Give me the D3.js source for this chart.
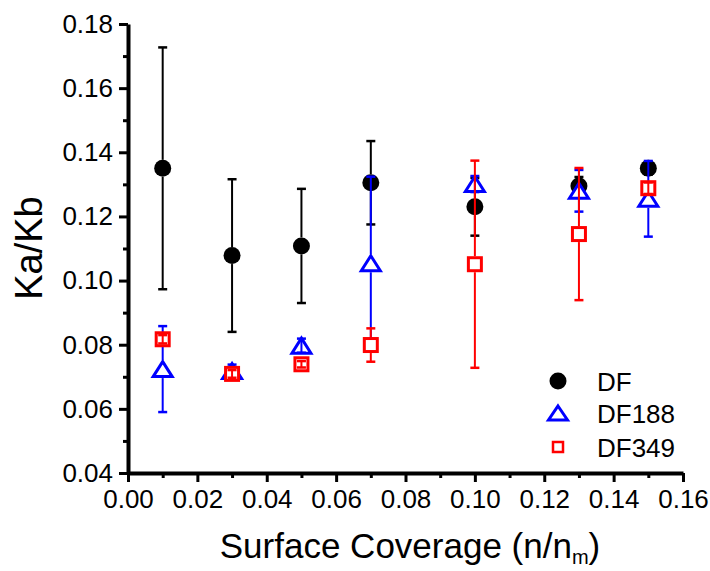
<!DOCTYPE html>
<html>
<head>
<meta charset="utf-8">
<script src="https://cdn.jsdelivr.net/npm/d3@7"></script>
<style>
  html, body { margin: 0; padding: 0; background: #fff; }
  svg { display: block; }
  text { font-family: "Liberation Sans", Arial, sans-serif; fill: #000; }
</style>
</head>
<body>
<svg id="chart" width="710" height="571"></svg>
<script>
// ---- data ----
const coverage = [0.01, 0.03, 0.05, 0.07, 0.10, 0.13, 0.15];
const dfValues   = [0.1350, 0.1078, 0.1108, 0.1305, 0.1230, 0.1295, 0.1350];
const dfErrors   = [0.0377, 0.0238, 0.0178, 0.0130, 0.0090, 0.0028, 0.0020];
const df188Values = [0.0724, 0.0718, 0.0797, 0.1054, 0.1301, 0.1280, 0.1255];
const df188Errors = [0.0134, 0.0020, 0.0022, 0.0270, 0.0025, 0.0065, 0.0118];
const df349Values = [0.0817, 0.0709, 0.0739, 0.0799, 0.1051, 0.1145, 0.1288];
const df349Errors = [0.0013, 0.0012, 0.0010, 0.0052, 0.0323, 0.0206, 0.0018];
const seriesNames = ["DF", "DF188", "DF349"];
const xMajorTicks = [0.00, 0.02, 0.04, 0.06, 0.08, 0.10, 0.12, 0.14, 0.16];
const xMinorTicks = [0.01, 0.03, 0.05, 0.07, 0.09, 0.11, 0.13, 0.15];
const yMajorTicks = [0.04, 0.06, 0.08, 0.10, 0.12, 0.14, 0.16, 0.18];
const yMinorTicks = [0.05, 0.07, 0.09, 0.11, 0.13, 0.15, 0.17];

const svg = d3.select("#chart");
const x = d3.scaleLinear().domain([0, 0.16]).range([128, 683]);
const y = d3.scaleLinear().domain([0.04, 0.18]).range([473, 24]);

const styles = {
  DF:    { color: "#000000", shape: "circle" },
  DF188: { color: "#0000ff", shape: "triangle" },
  DF349: { color: "#ff0000", shape: "square" }
};

// ---- axes ----
function styleAxis(g) {
  g.select(".domain").attr("stroke", "#000").attr("stroke-width", 4);
  g.selectAll(".tick line").attr("stroke", "#000").attr("stroke-width", 3);
  g.selectAll(".tick text").style("font-size", "26px").style("font-family", "'Liberation Sans', Arial, sans-serif");
}
const fmt = d3.format(".2f");

svg.append("g").attr("transform", "translate(0,473)")
  .call(d3.axisBottom(x).tickValues(xMinorTicks).tickSize(5).tickFormat(""))
  .call(g => { styleAxis(g); g.select(".domain").remove(); });
svg.append("g").attr("transform", "translate(128,0)")
  .call(d3.axisLeft(y).tickValues(yMinorTicks).tickSize(5).tickFormat(""))
  .call(g => { styleAxis(g); g.select(".domain").remove(); });

svg.append("g").attr("transform", "translate(0,473)")
  .call(d3.axisBottom(x).tickValues(xMajorTicks).tickSize(9).tickSizeOuter(0).tickPadding(8).tickFormat(fmt))
  .call(styleAxis);
svg.append("g").attr("transform", "translate(128,0)")
  .call(d3.axisLeft(y).tickValues(yMajorTicks).tickSize(9).tickSizeOuter(0).tickPadding(6).tickFormat(fmt))
  .call(styleAxis);

// ---- axis titles ----
const xt = svg.append("text").attr("x", 410).attr("y", 558)
  .attr("text-anchor", "middle").style("font-size", "35px");
xt.append("tspan").text("Surface Coverage (n/n");
xt.append("tspan").attr("dy", 6).style("font-size", "20px").text("m");
xt.append("tspan").attr("dy", -6).text(")");

svg.append("text").attr("transform", "translate(42,248) rotate(-90)")
  .attr("text-anchor", "middle").style("font-size", "38px").text("Ka/Kb");

// ---- markers ----
function drawMarker(g, shape, color, cx, cy, s) {
  if (shape === "circle") {
    g.append("circle").attr("cx", cx).attr("cy", cy).attr("r", s.r).attr("fill", color);
  } else if (shape === "triangle") {
    const w = s.w, h = s.h;
    g.append("path")
      .attr("d", `M${cx},${cy - h / 2}L${cx + w / 2},${cy + h / 2}L${cx - w / 2},${cy + h / 2}Z`)
      .attr("fill", "#fff").attr("stroke", color).attr("stroke-width", s.sw).attr("stroke-linejoin", "miter");
  } else {
    g.append("rect").attr("x", cx - s.a / 2).attr("y", cy - s.a / 2).attr("width", s.a).attr("height", s.a)
      .attr("fill", "#fff").attr("stroke", color).attr("stroke-width", s.sw);
  }
}
const plotSize = {
  circle: { r: 8.5, half: 8.5 },
  triangle: { w: 19, h: 15, sw: 3, half: 9 },
  square: { a: 13, sw: 3, half: 8 }
};

const allSeries = [
  { name: "DF", values: dfValues, errors: dfErrors },
  { name: "DF188", values: df188Values, errors: df188Errors },
  { name: "DF349", values: df349Values, errors: df349Errors }
];

allSeries.forEach(ser => {
  const st = styles[ser.name];
  const g = svg.append("g");
  const size = plotSize[st.shape];
  coverage.forEach((c, i) => {
    const cx = x(c), cy = y(ser.values[i]);
    const yt = y(ser.values[i] + ser.errors[i]);
    const yb = y(ser.values[i] - ser.errors[i]);
    drawMarker(g, st.shape, st.color, cx, cy, size);
    const eb = g.append("g").attr("stroke", st.color).attr("stroke-width", 2);
    if (cy - yt > size.half) {
      eb.append("line").attr("x1", cx).attr("x2", cx).attr("y1", yt).attr("y2", cy - size.half);
      eb.append("line").attr("x1", cx).attr("x2", cx).attr("y1", cy + size.half).attr("y2", yb);
    } else {
      eb.append("line").attr("x1", cx).attr("x2", cx).attr("y1", yt).attr("y2", yb);
    }
    [yt, yb].forEach(yy => {
      eb.append("line").attr("x1", cx - 4.5).attr("x2", cx + 4.5).attr("y1", yy).attr("y2", yy)
        .attr("stroke-width", 2.5);
    });
  });
});

// ---- legend ----
const legendSize = {
  circle: { r: 8.5 },
  triangle: { w: 19, h: 14, sw: 3 },
  square: { a: 10, sw: 2.5 }
};
const legendRows = [381, 413, 447];
const lg = svg.append("g");
seriesNames.forEach((n, i) => {
  const st = styles[n];
  drawMarker(lg, st.shape, st.color, 558, legendRows[i], legendSize[st.shape]);
  lg.append("text").attr("x", 597).attr("y", legendRows[i] + 9.5)
    .style("font-size", "26px").text(n);
});
</script>
</body>
</html>
